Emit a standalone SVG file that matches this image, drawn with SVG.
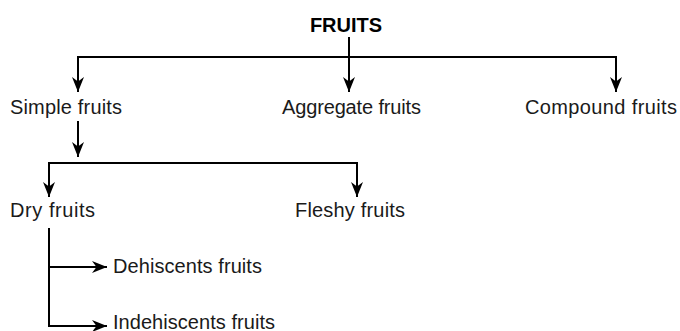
<svg xmlns="http://www.w3.org/2000/svg" width="680" height="331" viewBox="0 0 680 331">
<style>
.t{font-family:"Liberation Sans",Arial,sans-serif;font-size:20px;fill:#1a1a1a}
.b{font-weight:bold;fill:#000}
.c{fill:none;stroke:#000;stroke-width:2}
</style>
<defs>
<marker id="ah" markerUnits="userSpaceOnUse" markerWidth="18" markerHeight="16" viewBox="-16 -8 18 16" refX="0" refY="0" orient="auto">
<path d="M0,0 L-15,-6 L-10.5,0 L-15,6 Z" fill="#000"/>
</marker>
</defs>
<rect width="680" height="331" fill="#fff"/>
<g id="connectors">
<path class="c" d="M349,37 V92" marker-end="url(#ah)"/>
<path class="c" d="M78,92 V57 H616 V92" marker-end="url(#ah)"/>
<path class="c" d="M78,57 V92" marker-end="url(#ah)"/>
<path class="c" d="M78,121 V157" marker-end="url(#ah)"/>
<path class="c" d="M49,197 V163 H357 V197" marker-end="url(#ah)"/>
<path class="c" d="M49,163 V197" marker-end="url(#ah)"/>
<path class="c" d="M49,228 V326 H107" marker-end="url(#ah)"/>
<path class="c" d="M49,267 H107" marker-end="url(#ah)"/>
</g>
<g id="fruits"><text class="t b" x="346" y="32" text-anchor="middle">FRUITS</text></g>
<g id="simple"><text class="t" x="10" y="114" textLength="112">Simple fruits</text></g>
<g id="aggregate"><text class="t" x="282" y="114" textLength="139">Aggregate fruits</text></g>
<g id="compound"><text class="t" x="525" y="114" textLength="152">Compound fruits</text></g>
<g id="dry"><text class="t" x="10" y="217" textLength="85">Dry fruits</text></g>
<g id="fleshy"><text class="t" x="295" y="217" textLength="110">Fleshy fruits</text></g>
<g id="dehiscents"><text class="t" x="113" y="273" textLength="149">Dehiscents fruits</text></g>
<g id="indehiscents"><text class="t" x="113" y="329" textLength="162">Indehiscents fruits</text></g>
</svg>
